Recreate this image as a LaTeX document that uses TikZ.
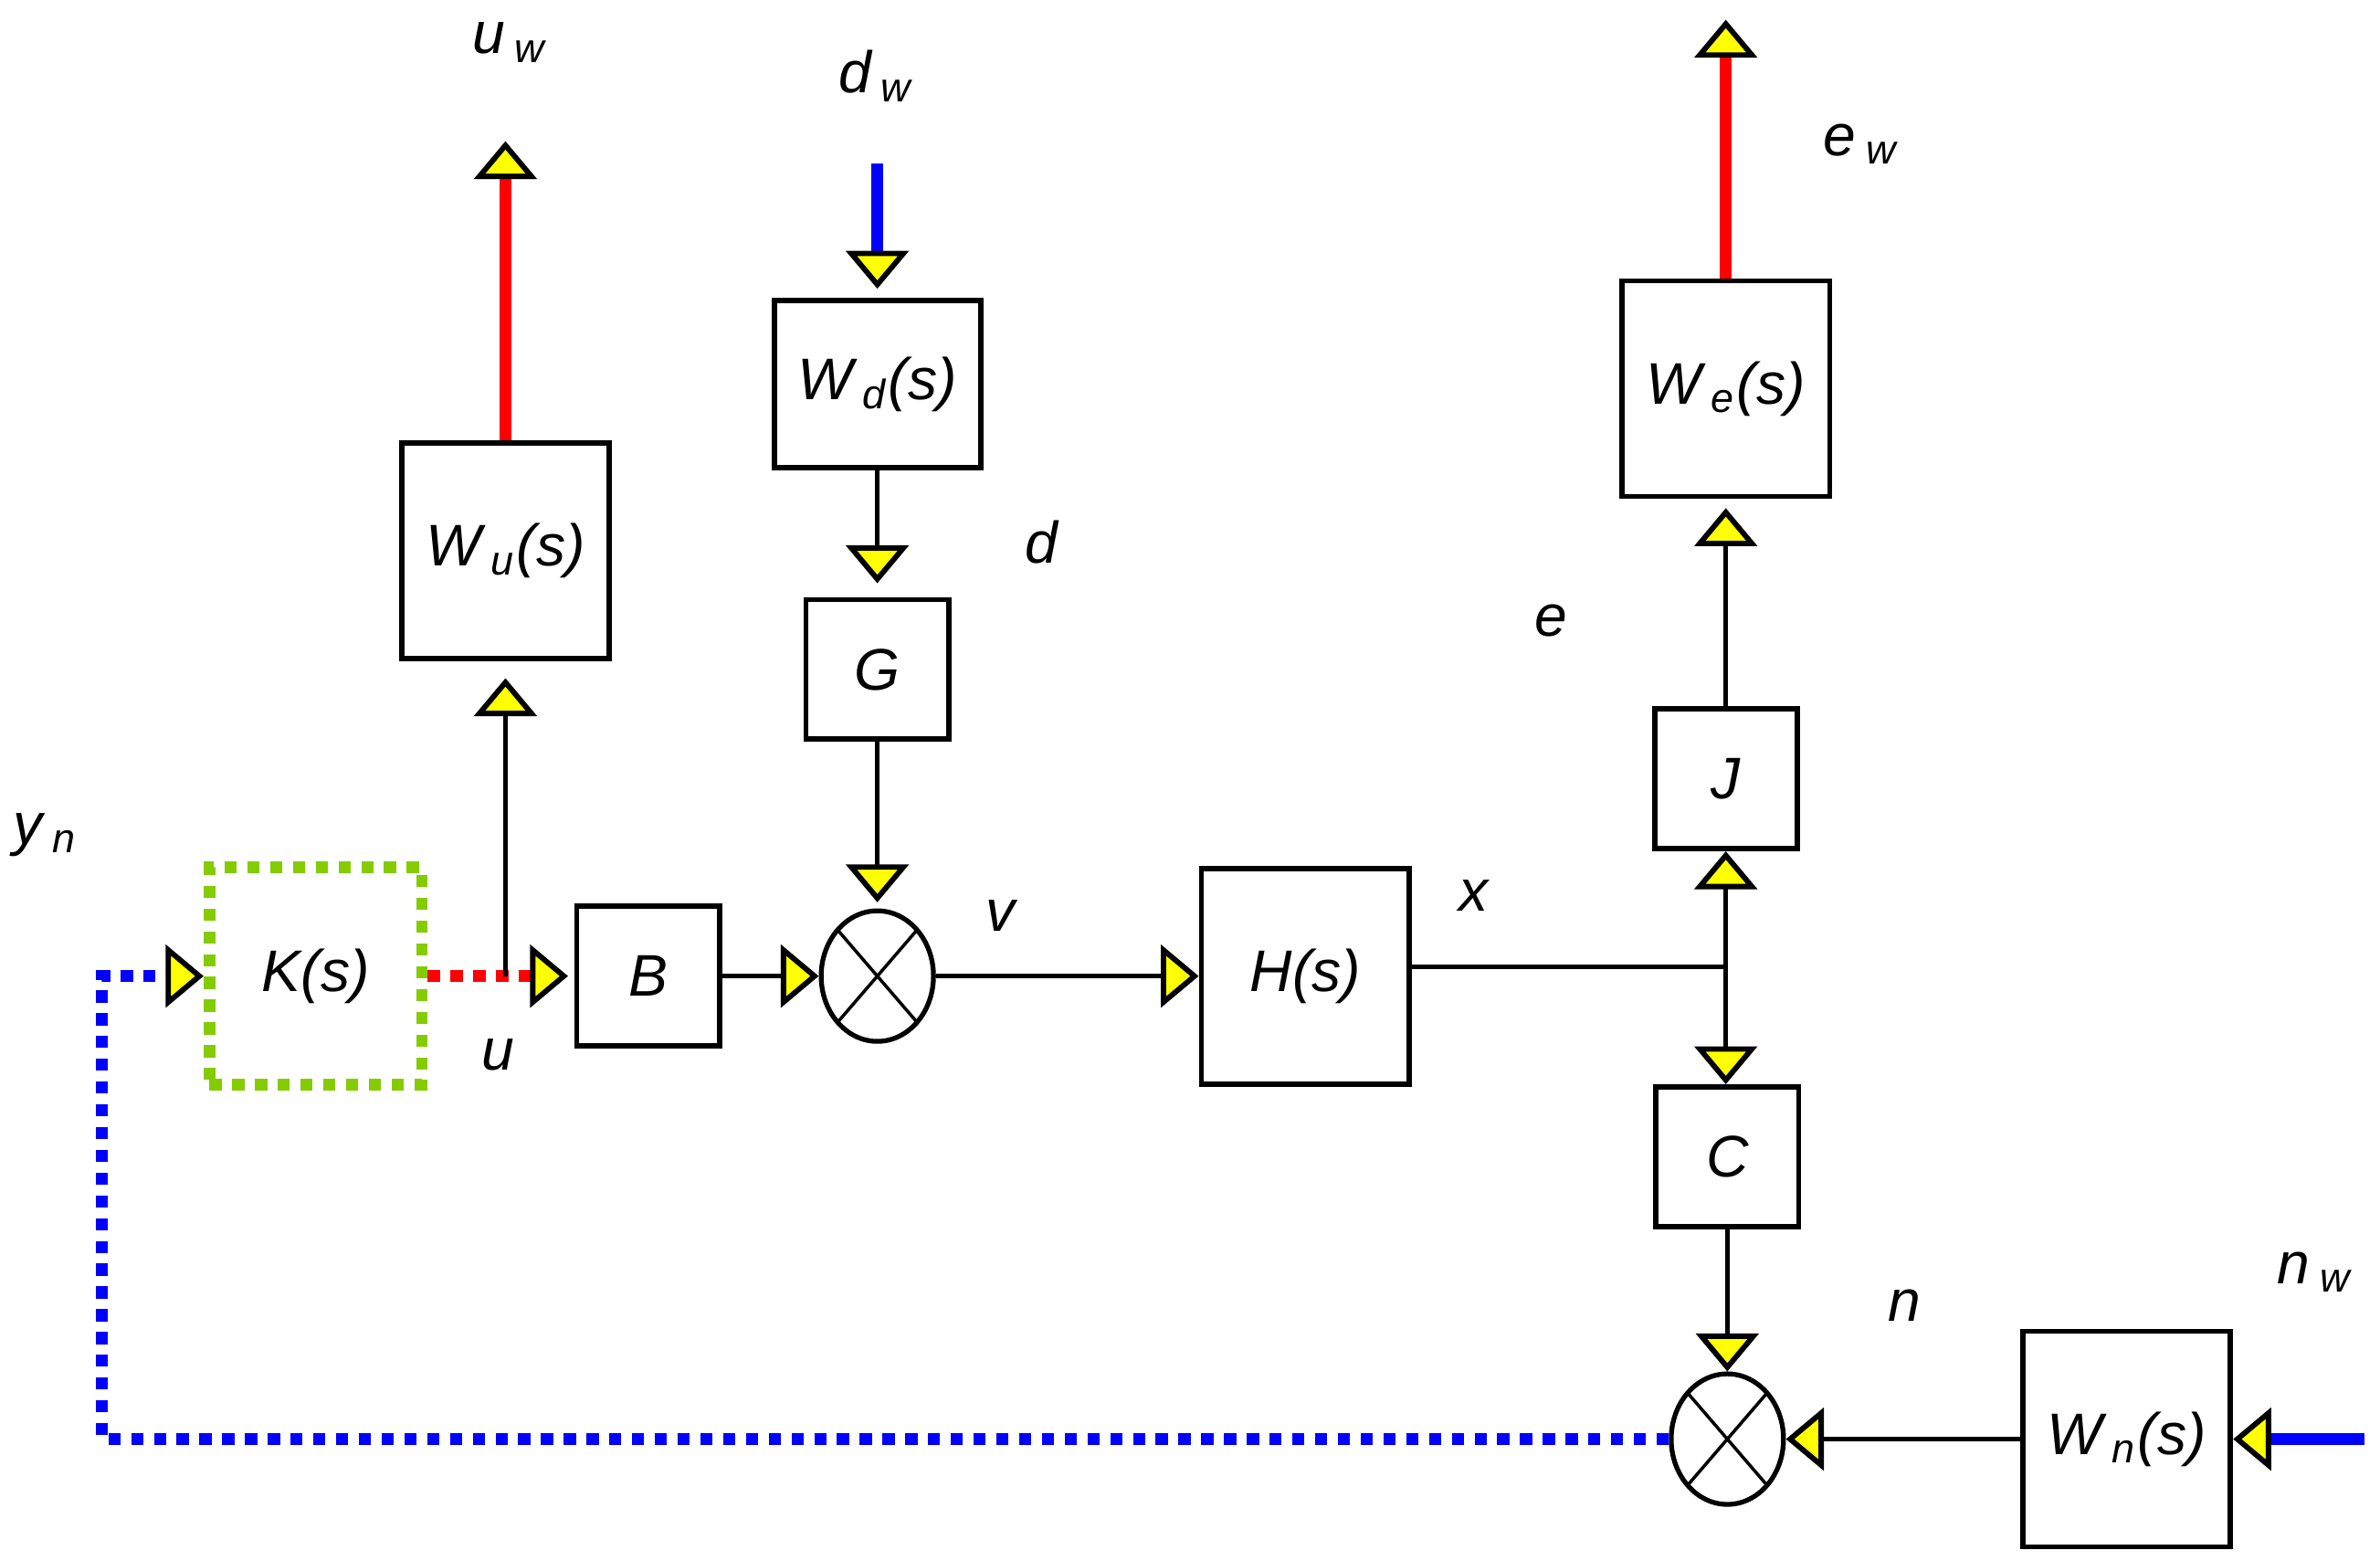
\documentclass[tikz,border=0pt]{standalone}
\usepackage{fontspec}
\setmainfont{Liberation Sans}
\usetikzlibrary{arrows.meta,shapes.geometric}
\definecolor{kgreen}{RGB}{132, 204, 0}
\definecolor{tipyellow}{RGB}{255, 255, 0}
\newcommand{\idx}[1]{\,\textsubscript{#1}}

\begin{document}
\begin{tikzpicture}[
	block/.style={draw, line width=1pt, minimum width=1.37cm, minimum height=1.42cm,
				inner sep=0pt, font=\fontsize{11}{13}\selectfont\itshape},
	small block/.style={block, minimum width=0.94cm, minimum height=0.92cm},
	% sommatore con croce
	summer/.style={ellipse, draw, line width=0.9pt, minimum width=0.74cm,
				minimum height=0.86cm, inner sep=0pt,
				path picture={\draw[line width=0.6pt]
					(path picture bounding box.north west) -- (path picture bounding box.south east)
					(path picture bounding box.north east) -- (path picture bounding box.south west);}},
	lbl/.style={font=\fontsize{11}{13}\selectfont\itshape, inner sep=0pt},
	% freccia gialla
	sig/.style={line width=0.9pt,
				-{Triangle[width=4.1mm, length=2.5mm, fill=tipyellow, color=black, line width=1pt]}},
	weight out/.style={sig, draw=red, line width=2.2pt},
	weight in/.style={sig, draw=blue, line width=2.2pt},
	dots/.style={line width=2.2pt, dash pattern=on 0.8mm off 0.7mm},
	]
\useasboundingbox (0,0) rectangle (15.68,10.28);

% blocchi
\node[block] (Wu) at (3.33,6.65) {W\idx{u}(s)};
\node[block, minimum width=1.36cm, minimum height=1.10cm] (Wd) at (5.78,7.75) {W\idx{d}(s)};
\node[small block] (G) at (5.78,5.87) {G};
\node[block] (We) at (11.37,7.72) {W\idx{e}(s)};
\node[small block] (J) at (11.37,5.15) {J};
\node[block, draw=kgreen, dots, minimum width=1.40cm, minimum height=1.43cm] (K) at (2.08,3.85) {K(s)};
\node[small block] (B) at (4.27,3.85) {B};
\node[summer] (S1) at (5.78,3.85) {};
\node[block] (H) at (8.60,3.85) {H(s)};
\node[small block] (C) at (11.38,2.66) {C};
\node[summer] (S2) at (11.38,0.80) {};
\node[block] (Wn) at (14.01,0.80) {W\idx{n}(s)};

% punti liberi
\coordinate (uwend) at (3.33,9.35);
\coordinate (dwstart) at (5.78,9.20);
\coordinate (ewend) at (11.37,10.15);
\coordinate (nwstart) at (15.58,0.80);
\coordinate (ubr) at (3.33,3.85);
\coordinate (jn) at (11.37,3.91);
\coordinate (fbcorner) at (0.67,0.80);

% etichette
\node[lbl] (uwlbl) at (3.36,10.00) {u\idx{w}};
\node[lbl] (dwlbl) at (5.77,9.78) {d\idx{w}};
\node[lbl] (ewlbl) at (12.26,9.33) {e\idx{w}};
\node[lbl] (dlbl) at (6.86,6.71) {d};
\node[lbl] (elbl) at (10.22,6.19) {e};
\node[lbl] (ynlbl) at (0.30,4.78) {y\idx{n}};
\node[lbl] (ulbl) at (3.28,3.33) {u};
\node[lbl] (vlbl) at (6.59,4.25) {v};
\node[lbl] (xlbl) at (9.71,4.38) {x};
\node[lbl] (nlbl) at (12.55,1.68) {n};
\node[lbl] (nwlbl) at (15.25,1.90) {n\idx{w}};

% collegamenti
\draw[weight out] (Wu) -- (uwend);
\draw[weight out] (We) -- (ewend);
\draw[weight in, shorten >=0.6mm] (dwstart) -- (Wd);
\draw[weight in] (nwstart) -- (Wn);
\draw[sig, shorten >=0.9mm] (Wd) -- (G);
\draw[sig, shorten >=0.4mm] (G) -- (S1);
\draw[sig, draw=blue, dots] (S2) -- (fbcorner) |- (K);
\draw[sig, draw=red, dots, shorten >=0.4mm] (K) -- (B);
\draw[sig, shorten >=1.1mm] (ubr) -- (Wu);
\draw[sig] (B) -- (S1);
\draw[sig] (S1) -- (H);
\draw[line width=0.9pt] (H.east |- jn) -- (jn);
\draw[sig] (jn) -- (J);
\draw[sig, shorten >=0.6mm] (J) -- (We);
\draw[sig] (jn) -- (jn |- C.north);
\draw[sig] (C) -- (S2);
\draw[sig] (Wn) -- (S2);
\end{tikzpicture}
\end{document}
